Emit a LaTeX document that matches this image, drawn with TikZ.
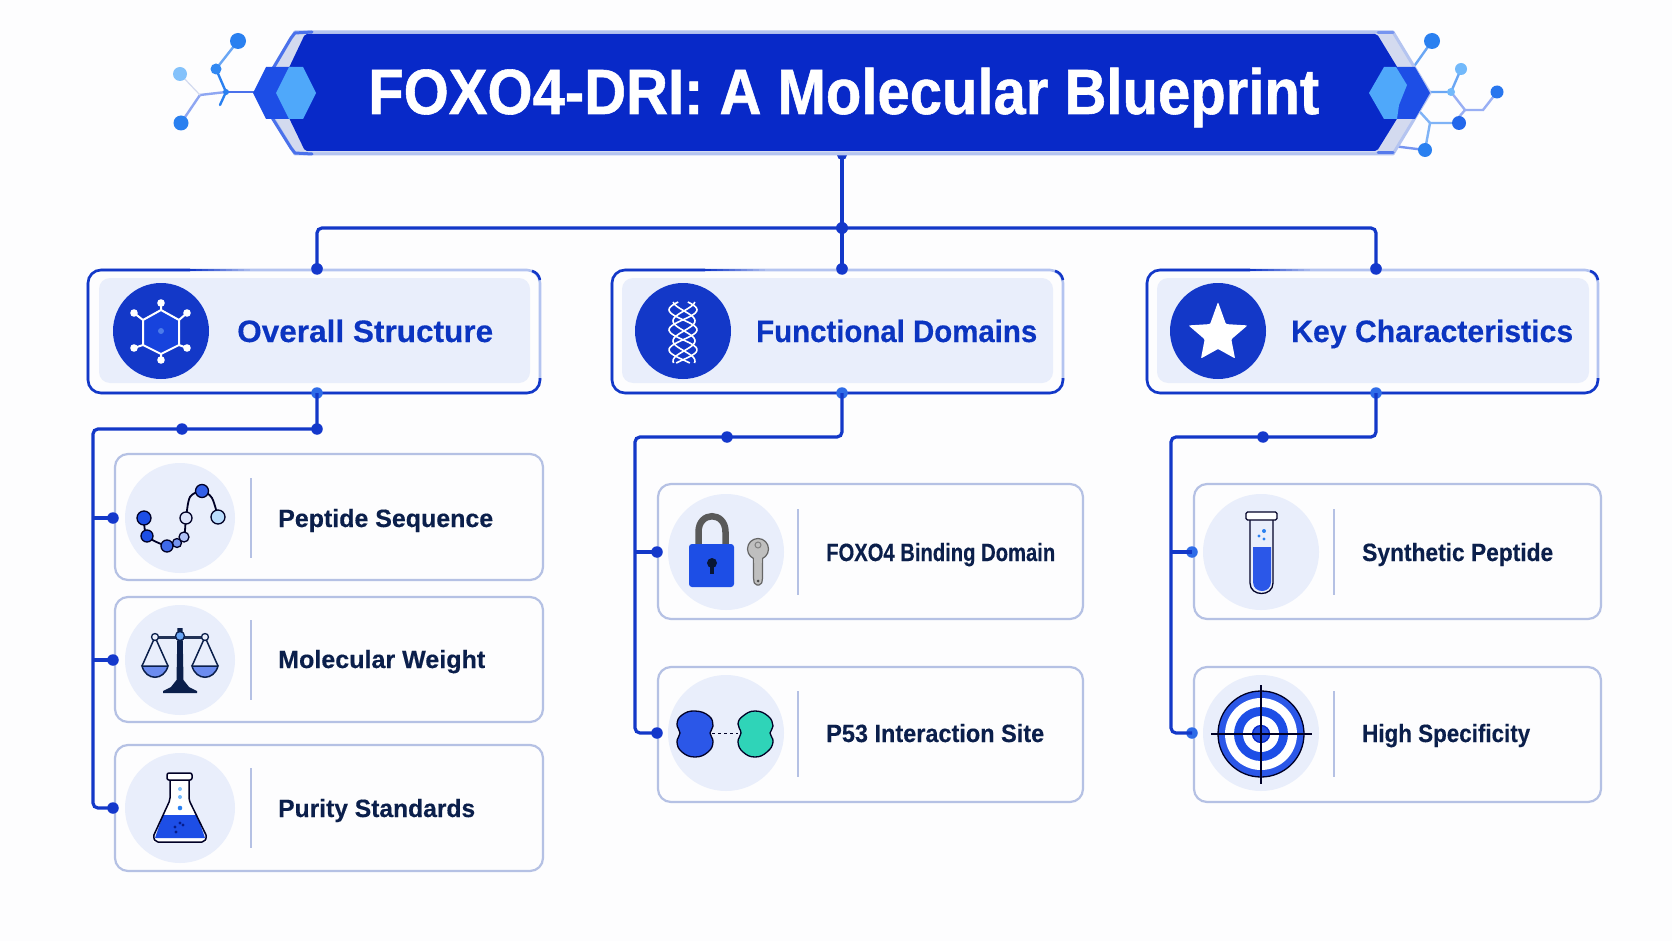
\documentclass[tikz,border=0pt]{standalone}
\usepackage{fontspec}
\setmainfont{Liberation Sans}[BoldFeatures={FakeBold=0.35}]
\newfontfamily\titlefont{Liberation Sans}[BoldFeatures={FakeBold=0.9}]
\definecolor{paper}{HTML}{FDFDFE}
\definecolor{bann}{HTML}{0829C8}
\definecolor{line}{HTML}{1338C8}
\definecolor{pale}{HTML}{B5C1E4}
\definecolor{edge}{HTML}{B4C4F0}
\definecolor{inner}{HTML}{E9EEFB}
\definecolor{ink}{HTML}{0B1F4B}
\definecolor{head}{HTML}{0B34C0}
\definecolor{dotd}{HTML}{1438CC}
\definecolor{dotl}{HTML}{2F6CE8}
\definecolor{sky}{HTML}{4FA8FA}
\definecolor{azure}{HTML}{2A80F0}
\definecolor{royal}{HTML}{1D4EE6}
\definecolor{tube}{HTML}{2B57E8}
\definecolor{teal}{HTML}{2FD4B8}
\newcommand{\fitw}[2]{\resizebox{#1pt}{\height}{#2}}
\newcommand{\fadeedge}[3]{\foreach \i in {0,...,9}{\pgfmathsetmacro{\pc}{100-10*\i}\pgfmathsetmacro{\xa}{#1+(#2-#1)*\i/10}\pgfmathsetmacro{\xb}{#1+(#2-#1)*(\i+1)/10}\draw[draw=#3!\pc!edge,line width=2.6pt] (\xa,270) -- (\xb,270);}}
\tikzset{
  x=1pt,y=-1pt,
  conn/.style={draw=line,line width=3.2pt,rounded corners=5pt},
  dotdark/.style={circle,fill=dotd,inner sep=0pt,minimum size=11.5pt},
  dotlight/.style={circle,fill=dotl,inner sep=0pt,minimum size=11.5pt},
  headbox/.style={draw=edge,line width=2.6pt,rounded corners=13pt,fill=paper,minimum height=123pt,inner sep=0pt},
  headedge/.style={draw=line,line width=2.6pt,rounded corners=13pt},
  headfill/.style={fill=inner,rounded corners=11pt,minimum height=105pt,inner sep=0pt},
  headcirc/.style={circle,fill=line,inner sep=0pt,minimum size=96pt},
  headtext/.style={anchor=base west,inner sep=0pt,text=head,font=\fontsize{31}{31}\selectfont\bfseries},
  subbox/.style={draw=pale,line width=2.2pt,rounded corners=13pt,fill=paper,inner sep=0pt},
  subcirc/.style={circle,fill=inner,inner sep=0pt},
  subtext/.style={anchor=base west,inner sep=0pt,text=ink,font=\fontsize{25}{25}\selectfont\bfseries},
  divider/.style={draw=pale,line width=2pt},
  ic/.style={draw=black!85!blue,line width=1.3pt},
  whiteline/.style={draw=white,line width=1.6pt},
  mol/.style={line width=2.4pt,line cap=round},
  title/.style={anchor=base west,inner sep=0pt,text=white,font=\fontsize{64}{64}\selectfont\titlefont\bfseries},
}
\begin{document}
\begin{tikzpicture}
\useasboundingbox (0,0) rectangle (1672,941);
\fill[paper] (0,0) rectangle (1672,941);

% molecules, left
\draw[mol,draw=azure!70] (238,41) -- (216,69);
\draw[mol,draw=azure] (216,69) -- (226,92);
\draw[mol,draw=royal!50] (226,92) -- (200,95) -- (181,123);
\draw[mol,draw=pale!60,line width=1.2pt] (200,95) -- (180,74);
\draw[mol,draw=azure] (226,92) -- (220,105);
\draw[mol,draw=royal!80] (226,92) -- (256,92);
\fill[azure] (238,41) circle[radius=8];
\fill[azure!80!sky] (216,69) circle[radius=5.5];
\fill[sky!70] (180,74) circle[radius=7];
\fill[azure] (181,123) circle[radius=7.5];
\fill[azure] (226,92) circle[radius=3];
% molecules, right
\draw[mol,draw=azure!70] (1415,65) -- (1432,41);
\draw[mol,draw=azure!70] (1428,92) -- (1451,92) -- (1461,69);
\draw[mol,draw=royal!45] (1451,92) -- (1465,110) -- (1483,110) -- (1497,92);
\draw[mol,draw=royal!45] (1465,110) -- (1459,117);
\draw[mol,draw=azure!60] (1420,112) -- (1430,123) -- (1459,123);
\draw[mol,draw=azure!60] (1430,123) -- (1425,150);
\draw[mol,draw=royal!60] (1393,146) -- (1425,150);
\fill[azure] (1432,41) circle[radius=8];
\fill[sky!80] (1461,69) circle[radius=6];
\fill[azure!80!royal] (1497,92) circle[radius=6.5];
\fill[azure!50!royal] (1459,123) circle[radius=7];
\fill[azure] (1425,150) circle[radius=7];
\fill[sky!80] (1451,92) circle[radius=4];

% top connectors
\node[dotdark,minimum size=10pt] (tb) at (842,155) {};
\node[dotdark,minimum size=12pt] (jn) at (842,228) {};
\node[dotdark] (h1t) at (317,269) {};
\node[dotdark] (h2t) at (842,269) {};
\node[dotdark] (h3t) at (1376,269) {};
\coordinate (cl) at (317,228);
\coordinate (cr) at (1376,228);
\draw[conn] (tb.center) -- (jn.center);
\draw[conn] (h1t.center) -- (cl) -- (cr) -- (h3t.center);
\draw[conn] (jn.center) -- (h2t.center);

% banner
\draw[draw=edge,line width=3pt,fill=pale!60,line join=round]
  (295,32) -- (1393,32) -- (1430,93) -- (1393,154) -- (295,154) -- (258,93) -- cycle;
\draw[draw=royal!80,line width=3pt,line cap=round,line join=round] (271,72) -- (291,38) -- (295,33) -- (312,32);
\draw[draw=royal!80,line width=3pt,line cap=round,line join=round] (271,116) -- (291,148) -- (295,153) -- (312,154);
\draw[draw=royal!60,line width=3pt,line cap=round] (1378,33) -- (1393,33);
\draw[draw=royal!75,line width=3pt,line cap=round] (1378,153) -- (1393,153);
\fill[bann,rounded corners=2pt] (305,34) -- (1377,34) -- (1413,93) -- (1377,151) -- (305,151) -- (277,93) -- cycle;
\fill[royal] (253,93) -- (266,67) -- (293,67) -- (306,93) -- (293,119) -- (266,119) -- cycle;
\fill[sky] (276,93) -- (289,67) -- (303,67) -- (316,93) -- (303,119) -- (289,119) -- cycle;
\fill[royal] (1395,67) -- (1415,67) -- (1430,93) -- (1415,119) -- (1395,119) -- (1400,93) -- cycle;
\fill[sky] (1369,93) -- (1384,67) -- (1396,67) -- (1407,85) -- (1399,105) -- (1397,119) -- (1384,119) -- cycle;
\node[title] (ttl) at (368,114) {\fitw{951}{FOXO4-DRI: A Molecular Blueprint}};

% header boxes
\node[headbox,minimum width=452pt] (h1) at (314,331.5) {};
\node[headbox,minimum width=451pt] (h2) at (837.5,331.5) {};
\node[headbox,minimum width=451pt] (h3) at (1372.5,331.5) {};
\draw[headedge] (190,270) -- (88,270) -- (88,393) -- (540,393) -- (540,378);
\draw[headedge] (705,270) -- (612,270) -- (612,393) -- (1063,393) -- (1063,378);
\draw[headedge] (1250,270) -- (1147,270) -- (1147,393) -- (1598,393) -- (1598,378);
\fadeedge{190}{250}{line}
\fadeedge{705}{765}{line}
\fadeedge{1250}{1310}{line}
\draw[headedge,rounded corners=0pt] (532,271) .. controls (536,272) and (539,275) .. (540,280);
\draw[headedge,rounded corners=0pt] (1055,271) .. controls (1059,272) and (1062,275) .. (1063,280);
\draw[headedge,rounded corners=0pt] (1590,271) .. controls (1594,272) and (1597,275) .. (1598,280);
\node[headfill,minimum width=431pt] (h1f) at (314.5,330.5) {};
\node[headfill,minimum width=431pt] (h2f) at (837.5,330.5) {};
\node[headfill,minimum width=432pt] (h3f) at (1373,330.5) {};
\node[headcirc] (h1c) at (161,331) {};
\node[headcirc] (h2c) at (683,331) {};
\node[headcirc] (h3c) at (1218,331) {};
\node[headtext] (h1l) at (237,342) {\fitw{256}{Overall Structure}};
\node[headtext] (h2l) at (756,342) {\fitw{281}{Functional Domains}};
\node[headtext] (h3l) at (1291,342) {\fitw{282}{Key Characteristics}};
\node[dotdark] at (317,269) {};
\node[dotdark] at (842,269) {};
\node[dotdark] at (1376,269) {};

% sub boxes
\node[subbox,minimum width=428pt,minimum height=126pt] (s11) at (329,517) {};
\node[subbox,minimum width=428pt,minimum height=125pt] (s12) at (329,659.5) {};
\node[subbox,minimum width=428pt,minimum height=126pt] (s13) at (329,808) {};
\node[subbox,minimum width=425pt,minimum height=135pt] (s21) at (870.5,551.5) {};
\node[subbox,minimum width=425pt,minimum height=135pt] (s22) at (870.5,734.5) {};
\node[subbox,minimum width=407pt,minimum height=135pt] (s31) at (1397.5,551.5) {};
\node[subbox,minimum width=407pt,minimum height=135pt] (s32) at (1397.5,734.5) {};

% lower connectors
\node[dotlight] (h1b) at (317,393) {};
\node[dotlight] (h2b) at (842,393) {};
\node[dotlight] (h3b) at (1376,393) {};
\node[dotdark] (a1) at (317,429) {};
\node[dotdark] (a1m) at (182,429) {};
\node[dotdark] (d11) at (113,518) {};
\node[dotdark] (d12) at (113,660) {};
\node[dotdark] (d13) at (113,808) {};
\node[dotdark] (a2m) at (727,437) {};
\node[dotdark] (d21) at (657,552) {};
\node[dotdark] (d22) at (657,733) {};
\node[dotdark] (a3m) at (1263,437) {};
\node[dotlight] (d31) at (1192,552) {};
\node[dotlight] (d32) at (1192,733) {};
\coordinate (c1a) at (93,429);
\coordinate (c1b) at (93,808);
\coordinate (c2a) at (842,437);
\coordinate (c2b) at (635,437);
\coordinate (c2c) at (635,733);
\coordinate (c3a) at (1376,437);
\coordinate (c3b) at (1171,437);
\coordinate (c3c) at (1171,733);
\draw[conn] (h1b.center) -- (a1.center) -- (c1a) -- (c1b) -- (d13.center);
\draw[conn] (d11.center) -- (d11 -| c1a);
\draw[conn] (d12.center) -- (d12 -| c1a);
\draw[conn] (h2b.center) -- (c2a) -- (c2b) -- (c2c) -- (d22.center);
\draw[conn] (d21.center) -- (d21 -| c2b);
\draw[conn] (h3b.center) -- (c3a) -- (c3b) -- (c3c) -- (d32.center);
\draw[conn] (d31.center) -- (d31 -| c3b);

% circles, dividers, labels
\foreach \n/\x/\y/\d in {c11/180/518/110,c12/180/660/110,c13/180/808/110,c21/726/552/116,c22/726/733/116,c31/1261/552/116,c32/1261/733/116}
  \node[subcirc,minimum size=\d pt] (\n) at (\x,\y) {};
\foreach \x/\y/\h in {251/518/40,251/660/40,251/808/40,798/552/43,798/734/43,1334/552/43,1334/734/43}
  \draw[divider] (\x,\y-\h) -- (\x,\y+\h);
\node[subtext] (l11) at (278,527) {\fitw{215}{Peptide Sequence}};
\node[subtext] (l12) at (278,668) {\fitw{207}{Molecular Weight}};
\node[subtext] (l13) at (278,817) {\fitw{197}{Purity Standards}};
\node[subtext] (l21) at (826,561) {\fitw{229}{FOXO4 Binding Domain}};
\node[subtext] (l22) at (826,742) {\fitw{218}{P53 Interaction Site}};
\node[subtext] (l31) at (1362,561) {\fitw{191}{Synthetic Peptide}};
\node[subtext] (l32) at (1362,742) {\fitw{168}{High Specificity}};

% hexagon icon
\fill[royal!70!bann] (161,310) -- (179,320) -- (179,345) -- (161,354) -- (143,345) -- (143,320) -- cycle;
\fill[azure!60!white,opacity=.5] (161,331) circle[radius=3];
\draw[whiteline,line width=2pt,line join=round] (161,310) -- (179,320) -- (179,345) -- (161,354) -- (143,345) -- (143,320) -- cycle;
\draw[whiteline,line width=2pt] (161,310) -- (161,303) (179,320) -- (187,313) (179,345) -- (187,348)
  (161,354) -- (161,360) (143,345) -- (134,348) (143,320) -- (134,313);
\foreach \x/\y in {161/303,187/313,187/348,161/360,134/348,134/313}
  \fill[white] (\x,\y) circle[radius=3.8];
% helix icon
\draw[whiteline,smooth,samples=40,domain=0:61,variable=\t] plot ({683+14*sin(\t*9+20)},{302+\t});
\draw[whiteline,smooth,samples=40,domain=0:61,variable=\t] plot ({683-14*sin(\t*9+20)},{302+\t});
\draw[whiteline,smooth,samples=40,domain=0:61,variable=\t] plot ({684+11*sin(\t*9+100)},{302+\t});
\draw[whiteline,smooth,samples=40,domain=0:61,variable=\t] plot ({684-11*sin(\t*9+100)},{302+\t});
% star icon
\fill[white,rounded corners=1pt] ([shift={(1218,335)}]90:33pt) -- ([shift={(1218,335)}]54:13.5pt)
  -- ([shift={(1218,335)}]18:31pt) -- ([shift={(1218,335)}]-18:14pt) -- ([shift={(1218,335)}]-54:29pt)
  -- ([shift={(1218,335)}]-90:14pt) -- ([shift={(1218,335)}]-126:29pt) -- ([shift={(1218,335)}]-162:14pt)
  -- ([shift={(1218,335)}]162:31pt) -- ([shift={(1218,335)}]126:13.5pt) -- cycle;

% peptide icon
\draw[ic,line width=1.8pt,smooth] plot coordinates {(144,518) (147,536) (167,546) (177,543) (184,537) (186,518) (190,497) (202,491) (212,498) (218,517)};
\foreach \x/\y/\r/\c in {144/518/7/royal,147/536/6/royal,167/546/6/royal!85,177/543/4.5/royal!60,184/537/5/royal!35,186/518/6/royal!15,202/491/6.5/royal!90,218/517/7/sky!40}
  \draw[ic,fill=\c] (\x,\y) circle[radius=\r];
% scales icon
\fill[ink] (177.5,628) -- (182.5,628) -- (183.5,680) -- (189,687) -- (197,691) -- (197,693) -- (163,693) -- (163,691) -- (171,687) -- (176.5,680) -- cycle;
\draw[draw=ink!80!gray,line width=3pt] (155,637) -- (205,637);
\draw[ic,draw=ink,line width=1.5pt] (155,637) -- (142,666) (155,637) -- (168,666) (205,637) -- (192,666) (205,637) -- (218,666);
\draw[ic,draw=ink,line width=1.5pt,fill=royal!65!white] (142,666) .. controls (146,681) and (164,681) .. (168,666) -- cycle;
\draw[ic,draw=ink,line width=1.5pt,fill=royal!65!white] (192,666) .. controls (196,681) and (214,681) .. (218,666) -- cycle;
\draw[ic,draw=ink,fill=inner] (155,637) circle[radius=3.5];
\draw[ic,draw=ink,fill=inner] (205,637) circle[radius=3.5];
\draw[ic,draw=ink,fill=azure!70] (180,636) circle[radius=4.5];
% flask icon
\fill[white] (170,780) -- (189,780) -- (189,800) -- (207,842) -- (153,842) -- (170,800) -- cycle;
\fill[royal] (163,815) -- (197,815) -- (205,838) -- (155,838) -- cycle;
\draw[ic,line width=1.5pt,line join=round,rounded corners=2pt] (170,780) -- (170,800) -- (153,837) -- (156,842) -- (204,842) -- (207,837) -- (189,800) -- (189,780);
\draw[ic,line width=1.5pt,fill=white,rounded corners=2pt] (167,773) rectangle (192,780);
\fill[sky!70] (180,789) circle[radius=2];
\fill[sky!80] (180,797) circle[radius=2];
\fill[azure] (180,808) circle[radius=2.3];
\foreach \x/\y in {175/827,180/823,183/825,176/832}
  \fill[bann!70!black] (\x,\y) circle[radius=1.7];
% lock and key icon
\draw[draw=black!65,line width=6.5pt] (698.5,546) -- (698.5,532) .. controls (698.5,511) and (725.5,511) .. (725.5,532) -- (725.5,546);
\fill[royal,rounded corners=3pt] (689,544) rectangle (734,587);
\fill[ink!70!black] (712,563) circle[radius=5];
\fill[ink!70!black] (710,563) rectangle (714,574);
\draw[draw=black!60,line width=1.2pt,fill=black!25,rounded corners=2pt] (753.5,555) -- (753.5,580) -- (755,585) -- (761,585) -- (762.5,580) -- (762.5,555) -- cycle;
\draw[draw=black!60,line width=1.2pt,fill=black!25] (758,549) circle[radius=10.5];
\fill[black!25] (754.2,555) rectangle (761.8,563);
\draw[draw=black!50,line width=1pt] (758,545) circle[radius=3];
\fill[black!70] (758,581) circle[radius=1.5];
% interaction icon
\draw[ic,fill=tube] plot[smooth cycle,tension=0.8] coordinates {(695,711) (709,716) (713,726) (710,733) (713,742) (708,752) (695,757) (682,752) (677,742) (680,733) (677,724) (682,715)};
\draw[ic,fill=teal] plot[smooth cycle,tension=0.8] coordinates {(755,711) (768,716) (773,726) (770,733) (773,742) (767,752) (755,757) (743,752) (738,742) (741,733) (738,724) (743,716)};
\draw[ic,dashed,line width=1.6pt] (712,733.5) -- (738,733.5);
% tube icon
\fill[tube] (1253,547) -- (1271,547) -- (1271,582) .. controls (1271,594) and (1253,594) .. (1253,582) -- cycle;
\draw[ic] (1250,520) -- (1250,583) .. controls (1250,597) and (1273,597) .. (1273,583) -- (1273,520);
\draw[ic,fill=white,rounded corners=1.5pt] (1246,512) rectangle (1277,520);
\foreach \x/\y/\r in {1264/531/2,1259/536/1.7,1264/539/1.7}
  \fill[azure] (\x,\y) circle[radius=\r];
% target icon
\draw[ic,fill=tube] (1261,734) circle[radius=43];
\fill[white] (1261,734) circle[radius=36];
\fill[royal] (1261,734) circle[radius=27];
\fill[white] (1261,734) circle[radius=18];
\draw[ic,draw=bann,fill=tube!80!bann] (1261,734) circle[radius=8.5];
\draw[ic,line width=1.2pt] (1211,734) -- (1312,734) (1261,685) -- (1261,784);
\end{tikzpicture}
\end{document}
